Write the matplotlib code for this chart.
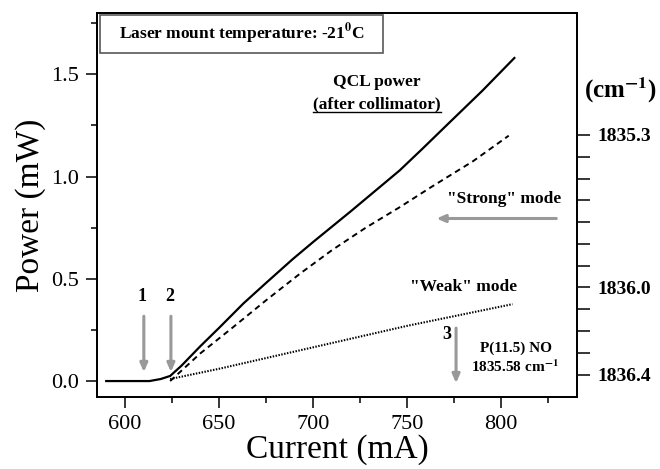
import matplotlib
matplotlib.use("Agg")
import matplotlib.pyplot as plt
from matplotlib.lines import Line2D
from matplotlib.patches import Rectangle

plt.rcParams["font.family"] = ["Liberation Serif", "DejaVu Serif"]
plt.rcParams["mathtext.fontset"] = "stix"

# QCL power after collimator (solid)
current_qcl = [590, 613, 619, 624, 630, 640, 650, 663, 675, 689, 700, 710,
               720, 733, 746, 758, 772, 790, 807]
power_qcl = [0.0, 0.0, 0.01, 0.025, 0.075, 0.17, 0.26, 0.38, 0.48, 0.595,
             0.68, 0.755, 0.83, 0.93, 1.03, 1.135, 1.26, 1.42, 1.58]

# "Strong" mode (dashed)
current_strong = [624, 640, 657, 675, 693, 710, 728, 746, 763, 785, 804]
power_strong = [0.0, 0.135, 0.26, 0.395, 0.525, 0.64, 0.75, 0.85, 0.95,
                1.075, 1.2]

# "Weak" mode (dotted)
current_weak = [624, 650, 700, 750, 806]
power_weak = [0.01, 0.06, 0.165, 0.27, 0.376]

# marked currents (arrows 1, 2, 3)
mark_currents = [610, 624.4, 776]
mark_labels = ["1", "2", "3"]

power_ticks = [0.0, 0.5, 1.0, 1.5]
current_ticks = [600, 650, 700, 750, 800]
wn_major = [1835.3, 1836.0, 1836.4]
wn_minor = [1835.3 + 0.1 * i for i in range(12)]

fig = plt.figure(figsize=(6.6, 4.69), dpi=100)
ax = fig.add_axes([97 / 660, 72 / 469, 480 / 660, 384 / 469])

ax.plot(current_qcl, power_qcl, color="black", lw=1.6)
ax.plot(current_strong, power_strong, color="black", lw=1.4, ls=(0, (3, 2.2)))
ax.plot(current_weak, power_weak, color="black", lw=1.5, ls=(0, (0.7, 0.7)))

ax.set_xlim(585.1, 840.3)
ax.set_ylim(-0.078, 1.80)
ax.set_xticks(current_ticks)
ax.set_xticks([625, 675, 725, 775, 825], minor=True)
ax.set_yticks(power_ticks)
ax.set_yticklabels(["0.0", "0.5", "1.0", "1.5"])
ax.set_yticks([0.25, 0.75, 1.25, 1.75], minor=True)
ax.tick_params(which="major", direction="out", length=8, width=1.1,
               labelsize=16, pad=5, top=False, right=False)
ax.tick_params(which="minor", direction="out", length=4, width=1.1,
               top=False, right=False)
for s in ax.spines.values():
    s.set_linewidth(1.3)

ax.set_xlabel("Current (mA)", fontsize=24, labelpad=0)
ax.set_ylabel("Power (mW)", fontsize=24, labelpad=4)

# right wavenumber axis
ax2 = ax.twinx()
ax2.set_ylim(1836.503, 1834.740)
ax2.set_yticks(wn_major)
ax2.set_yticklabels(["1835.3", "1836.0", "1836.4"], fontweight="bold")
ax2.set_yticks(wn_minor, minor=True)
ax2.tick_params(which="both", direction="out", length=9, width=1.1,
                labelsize=14, pad=6)
for s in ax2.spines.values():
    s.set_linewidth(1.3)
fig.text(620 / 660, 1 - 90 / 469, r"(cm$^{\mathbf{-1}}$)", fontsize=18,
         fontweight="bold", ha="center", va="center")

# temperature box
ax.add_patch(Rectangle((0.006, 0.896), 0.59, 0.099, transform=ax.transAxes,
                       fill=False, edgecolor="0.35", lw=1.2, zorder=3))
ax.text(0.301, 0.945, r"Laser mount temperature: -21$^{\mathbf{0}}$C",
        transform=ax.transAxes, fontsize=12.5, fontweight="bold",
        ha="center", va="center")

bold = dict(fontweight="bold", ha="center", va="center")
ax.text(734, 1.463, "QCL power", fontsize=12.5, **bold)
after = ax.text(734, 1.351, "(after collimator)", fontsize=12.5, **bold)
ax.text(801.7, 0.888, '"Strong" mode', fontsize=12.5, **bold)
ax.text(779.9, 0.459, '"Weak" mode', fontsize=12.5, **bold)
ax.text(807.8, 0.161, "P(11.5) NO", fontsize=11, **bold)
ax.text(807.5, 0.068, r"1835.58 cm$^{\mathbf{-1}}$", fontsize=11, **bold)

arrow = dict(arrowstyle="-|>,head_length=0.5,head_width=0.22", color="0.6",
             lw=2.2, shrinkA=0, shrinkB=0)
ax.annotate("", xy=(765.6, 0.795), xytext=(829.3, 0.795), arrowprops=arrow)

label_pos = [(609, 0.415), (623.9, 0.415), (770.9, 0.229)]
arrow_y = [(0.317, 0.044), (0.317, 0.044), (0.259, -0.01)]
for cur, lab, (lx, ly), (y0, y1) in zip(mark_currents, mark_labels,
                                       label_pos, arrow_y):
    ax.annotate("", xy=(cur, y1), xytext=(cur, y0), arrowprops=arrow)
    ax.text(lx, ly, lab, fontsize=13, **bold)

# underline for "(after collimator)"
fig.canvas.draw()
bb = after.get_window_extent().transformed(fig.transFigure.inverted())
fig.add_artist(Line2D([bb.x0, bb.x1], [bb.y0 + 0.002, bb.y0 + 0.002],
                      transform=fig.transFigure, color="black", lw=1.0))

fig.savefig("out.png", dpi=100)
